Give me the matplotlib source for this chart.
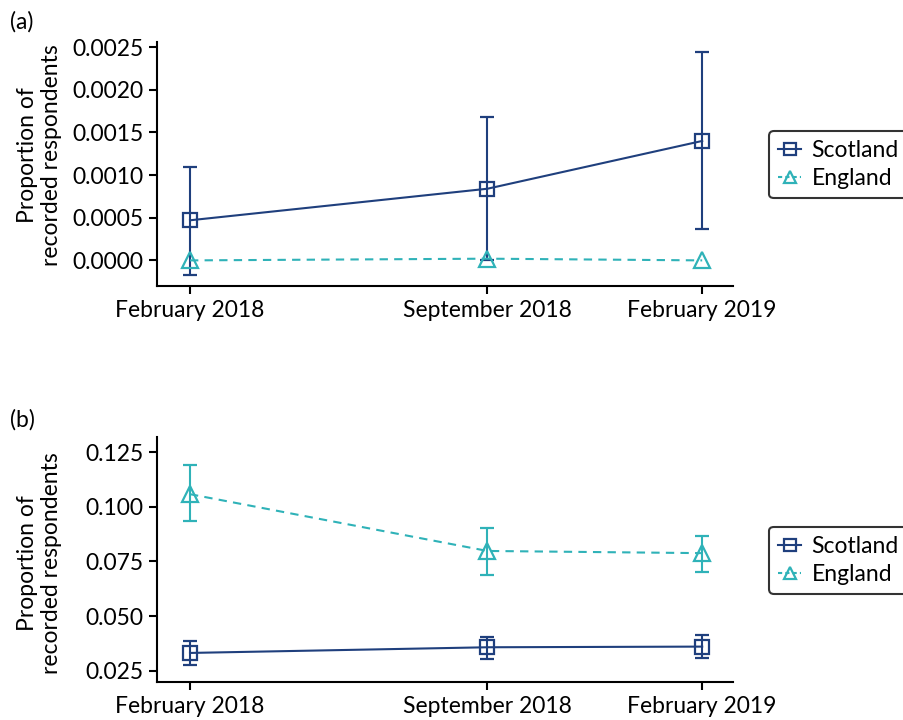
import pandas as pd
import numpy as np
import matplotlib
matplotlib.use("Agg")
import matplotlib.pyplot as plt
from matplotlib.lines import Line2D
from matplotlib.ticker import FormatStrFormatter

plt.rcParams['font.family'] = ['Lato', 'DejaVu Sans']

# survey waves
waves = pd.to_datetime(['2018-02-01', '2018-09-01', '2019-02-01'])
wave_labels = ['February 2018', 'September 2018', 'February 2019']

# panel (a): proportions with 95% CI
a_scot = [0.00047, 0.00084, 0.00140]
a_scot_lo = [-0.000176, 0.00001, 0.00037]
a_scot_hi = [0.00110, 0.00168, 0.00244]
a_eng = [0.0, 0.00002, 0.0]

# panel (b)
b_scot = [0.0331, 0.0357, 0.0360]
b_scot_lo = [0.0277, 0.0302, 0.0310]
b_scot_hi = [0.0386, 0.0405, 0.0412]
b_eng = [0.1058, 0.0798, 0.0788]
b_eng_lo = [0.0935, 0.0688, 0.0703]
b_eng_hi = [0.1192, 0.0905, 0.0867]

SCOT = '#1f3f7d'
ENG = '#2fb2b8'
FS = 16.5
DASH = (0, (4, 3))


def err(vals, lo, hi):
    vals = np.asarray(vals)
    return np.vstack([vals - np.asarray(lo), np.asarray(hi) - vals])


def style_axis(ax, yticks, fmt, ylim, label_y):
    for s in ['top', 'right']:
        ax.spines[s].set_visible(False)
    for s in ['left', 'bottom']:
        ax.spines[s].set_linewidth(1.5)
    ax.set_xticks(waves)
    ax.set_xticklabels(wave_labels)
    ax.set_xlim(waves[0] - pd.Timedelta(days=23.5), waves[-1] + pd.Timedelta(days=22))
    ax.set_yticks(yticks)
    ax.set_ylim(*ylim)
    ax.yaxis.set_major_formatter(FormatStrFormatter(fmt))
    ax.tick_params(labelsize=FS, width=1.5, length=6, direction='out', pad=4)
    ax.set_ylabel('Proportion of\nrecorded respondents', fontsize=FS)
    ax.yaxis.set_label_coords(-0.165, label_y)


fig = plt.figure(figsize=(9.04, 7.2), dpi=100)
ax1 = fig.add_axes([0.1737, 0.6028, 0.6372, 0.3389])
ax2 = fig.add_axes([0.1737, 0.0528, 0.6372, 0.3403])

# (a)
ax1.errorbar(waves, a_scot, yerr=err(a_scot, a_scot_lo, a_scot_hi), color=SCOT,
             marker='s', ms=10, mfc='none', mew=1.6, lw=1.5, capsize=4.7, capthick=2,
             elinewidth=1.5, zorder=2)
ax1.plot(waves, a_eng, color=ENG, marker='^', ms=11, mfc='none', mew=1.6, lw=1.5,
         ls=DASH, zorder=3)
style_axis(ax1, np.arange(0, 0.00251, 0.0005), '%.4f', (-0.0003, 0.00256), 0.537)

# (b)
ax2.errorbar(waves, b_scot, yerr=err(b_scot, b_scot_lo, b_scot_hi), color=SCOT,
             marker='s', ms=10, mfc='none', mew=1.6, lw=1.5, capsize=4.7, capthick=2,
             elinewidth=1.5, zorder=2)
ax2.errorbar(waves, b_eng, yerr=err(b_eng, b_eng_lo, b_eng_hi), color=ENG,
             marker='^', ms=11, mfc='none', mew=1.6, lw=1.5, ls=DASH,
             capsize=4.7, capthick=2, elinewidth=1.5, zorder=3)
style_axis(ax2, [0.025, 0.05, 0.075, 0.1, 0.125], '%.3f', (0.0198, 0.132), 0.486)

handles = [
    Line2D([], [], color=SCOT, marker='s', ms=8, mfc='none', mew=1.6, lw=1.5),
    Line2D([], [], color=ENG, marker='^', ms=9, mfc='none', mew=1.6, lw=1.5, ls=(0, (2, 1.5))),
]
names = ['Scotland', 'England']

for ax, top, tag, tag_y in [(ax1, 0.818, '(a)', 0.985), (ax2, 0.2685, '(b)', 0.432)]:
    leg = ax.legend(handles, names, loc='upper left', bbox_to_anchor=(0.8507, top),
                    bbox_transform=fig.transFigure, fontsize=FS, frameon=True,
                    fancybox=True, edgecolor='black', handlelength=1.0,
                    handletextpad=0.45, borderpad=0.4, borderaxespad=0,
                    labelspacing=0.3)
    leg.get_frame().set_linewidth(1.5)
    fig.text(0.011, tag_y, tag, fontsize=FS, va='top', ha='left')

fig.savefig('out.png', dpi=100)
